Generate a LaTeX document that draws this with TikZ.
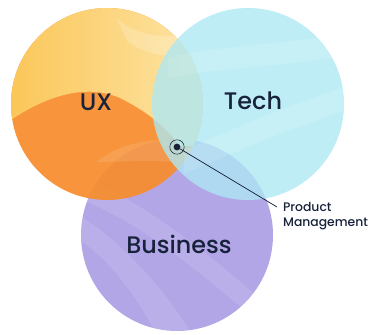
\documentclass[tikz,border=0pt]{standalone}
\usepackage{fontspec}
\setmainfont{Poppins}[UprightFont={* Medium}]
\usetikzlibrary{positioning}

\definecolor{uxyel}{HTML}{FBC24C}
\definecolor{uxpale}{HTML}{FDE3A0}
\definecolor{uxorange}{HTML}{F78D2D}
\definecolor{techfill}{HTML}{ADE8F3}
\definecolor{bizfill}{HTML}{B3A6E7}
\definecolor{navy}{HTML}{17223B}

\begin{document}
\begin{tikzpicture}[
venn/.style ={circle, minimum size=4.8cm, inner sep=0pt},
label/.style ={text=navy, font=\fontsize{17}{20}\selectfont},
small/.style ={text=navy, font=\fontsize{8.8}{10.6}\selectfont, align=left},
streak/.style ={white, opacity=0.11},
pmdot/.style ={circle, fill=navy, inner sep=0pt, minimum size=0.17cm},
pmring/.style ={circle, draw=navy, line width=0.4pt, inner sep=0pt, minimum size=0.36cm}
]
\useasboundingbox (0,0) rectangle (9.25,8.35);
%business circle
\path (4.425,2.475) node[venn, fill=bizfill] (biz) {};
\begin{scope}
\clip (biz.center) circle (2.4cm);
\fill[streak] (1.9,4.0) .. controls (3.5,3.4) and (5.5,1.8) .. (6.8,0.6) -- (6.8,0.0) .. controls (5.2,1.4) and (3.4,2.9) .. (1.9,3.4) -- cycle;
\fill[streak] (1.9,3.0) .. controls (3.0,2.4) and (4.2,1.0) .. (4.8,0.0) -- (3.9,0.0) .. controls (3.4,1.0) and (2.6,2.0) .. (1.9,2.4) -- cycle;
\end{scope}
%ux circle, orange with a yellow top
\begin{scope}[opacity=0.93, transparency group]
\path (2.675,5.75) node[venn, fill=uxorange] (ux) {};
\clip (ux.center) circle (2.4cm);
\shade[left color=uxyel, right color=uxpale] (0.2,8.3) -- (0.2,5.3) .. controls (1.2,6.0) and (2.2,6.25) .. (3.0,5.9) .. controls (3.8,5.5) and (4.2,5.1) .. (4.5,4.7) -- (5.2,4.7) -- (5.2,8.3) -- cycle;
\fill[streak] (2.4,4.3) .. controls (3.2,4.9) and (4.0,4.9) .. (5.2,4.8) -- (5.2,4.2) .. controls (4.0,4.4) and (3.2,4.3) .. (2.4,4.3) -- cycle;
\fill[white, opacity=0.2] (2.9,7.9) .. controls (3.6,7.3) and (4.4,7.4) .. (5.2,7.6) -- (5.2,7.0) .. controls (4.4,6.9) and (3.8,6.9) .. (3.2,7.3) -- cycle;
\end{scope}
%tech circle, see-through
\path (6.2,5.75) node[venn, fill=techfill, fill opacity=0.78] (tech) {};
\begin{scope}
\clip (tech.center) circle (2.4cm);
\fill[streak] (4.2,6.9) .. controls (5.8,7.3) and (7.4,7.2) .. (8.7,7.6) -- (8.7,7.0) .. controls (7.4,6.7) and (5.8,6.7) .. (4.2,6.4) -- cycle;
\fill[streak] (4.6,4.6) .. controls (6.0,5.2) and (7.4,5.8) .. (8.7,6.2) -- (8.7,5.6) .. controls (7.4,5.2) and (6.0,4.6) .. (4.6,4.0) -- cycle;
\end{scope}
%circle names
\path (2.4,5.8) node[label] (uxname) {UX}
(6.325,5.825) node[label] (techname) {Tech}
(4.475,2.25) node[label] (bizname) {Business};
%product management marker
\path (4.425,4.675) node[pmring] (pmr) {}
(4.425,4.675) node[pmdot] (pm) {};
\coordinate (pmend) at (6.925,3.175);
\draw[navy, line width=0.5pt] (pm) -- (pmend);
\node[small, anchor=north west, inner sep=0pt] (pmtext) at (7.07,3.3) {Product\\Management};
\end{tikzpicture}
\end{document}
